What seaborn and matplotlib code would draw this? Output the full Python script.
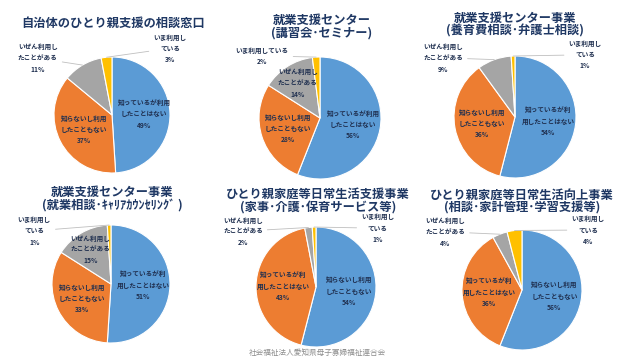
import numpy as np
import matplotlib
matplotlib.use("Agg")
import matplotlib.pyplot as plt
import seaborn as sns

# ---- data ----
titles = [
    "自治体のひとり親支援の相談窓口",
    "就業支援センター\n(講習会･セミナー)",
    "就業支援センター事業\n(養育費相談･弁護士相談)",
    "就業支援センター事業\n(就業相談･ｷｬﾘｱｶｳﾝｾﾘﾝｸﾞ )",
    "ひとり親家庭等日常生活支援事業\n(家事･介護･保育サービス等)",
    "ひとり親家庭等日常生活向上事業\n(相談･家計管理･学習支援等)",
]

know_a = "知っているが利用\nしたことはない"
know_b = "知っているが利\n用したことはない"
dont = "知らないし利用\nしたこともない"
before = "いぜん利用し\nたことがある"
now_a = "いま利用し\nている"
now_b = "いま利用している"

slice_labels = [
    [know_a, dont, before, now_a],
    [know_a, dont, before, now_b],
    [know_b, dont, before, now_a],
    [know_b, dont, before, now_a],
    [dont, know_b, before, now_a],
    [dont, know_b, before, now_a],
]

values = [
    [49, 37, 11, 3],
    [56, 28, 14, 2],
    [54, 36, 9, 1],
    [51, 33, 15, 1],
    [54, 43, 2, 1],
    [56, 36, 4, 4],
]

footer = "社会福祉法人愛知県母子寡婦福祉連合会"

# ---- layout (pixels on a 640x360 canvas) ----
W, H = 640, 360
pie_centers = [(112, 115), (320, 118), (515, 117), (111, 284), (316, 287), (522, 290)]
pie_radius = [58, 61, 61, 59, 60, 60]
title_pos = [(113, 23), (322, 26.5), (515, 25), (112, 199), (318, 200.5), (522, 201.5)]
# per slice: None -> inside label, otherwise (x, y) in radius units for outside label
outside = [
    [None, None, (-1.28, 0.98), (1.0, 1.15)],
    [None, None, None, (-0.95, 1.02)],
    [None, None, (-1.18, 0.97), (1.15, 1.02)],
    [None, None, None, (-1.3, 0.9)],
    [None, None, (-1.22, 0.93), (1.03, 0.98)],
    [None, None, (-1.28, 0.97), (1.1, 1.0)],
]

sns.set_theme(style="white")
plt.rcParams["font.family"] = ["Noto Sans CJK JP", "DejaVu Sans"]

colors = sns.color_palette(["#5B9BD5", "#ED7D31", "#A5A5A5", "#FFC000"])
navy = "#1F3864"
label_color = "#203050"

fig = plt.figure(figsize=(W / 100, H / 100), dpi=100)
fig.patch.set_facecolor("white")

for i in range(6):
    cx, cy = pie_centers[i]
    r = pie_radius[i]
    ax = fig.add_axes([(cx - r) / W, 1 - (cy + r) / H, 2 * r / W, 2 * r / H])
    wedges, _ = ax.pie(values[i], colors=colors, startangle=90, counterclock=False,
                       radius=1, wedgeprops=dict(edgecolor="white", linewidth=0.8))
    ax.set_xlim(-1, 1)
    ax.set_ylim(-1, 1)
    ax.set_aspect("equal")
    ax.axis("off")

    for j, w in enumerate(wedges):
        theta = np.deg2rad((w.theta1 + w.theta2) / 2)
        txt = f"{slice_labels[i][j]}\n{values[i][j]}%"
        pos = outside[i][j]
        if pos is None:
            rr = 0.55 if j < 2 else 0.68
            ax.text(rr * np.cos(theta), rr * np.sin(theta), txt, ha="center", va="center",
                    fontsize=4.8, fontweight="bold", color=label_color, linespacing=1.7)
        else:
            ax.annotate(txt, xy=(np.cos(theta), np.sin(theta)), xytext=pos,
                        ha="center", va="center", fontsize=4.8, fontweight="bold",
                        color=label_color, linespacing=1.7, annotation_clip=False,
                        arrowprops=dict(arrowstyle="-", color="#BFBFBF", lw=0.6,
                                        shrinkA=1, shrinkB=0))

    tx, ty = title_pos[i]
    fig.text(tx / W, 1 - ty / H, titles[i], ha="center", va="center",
             fontsize=8.8, fontweight="bold", color=navy, linespacing=0.95)

fig.text(317 / W, 1 - 353 / H, footer, ha="center", va="center", fontsize=5.5, color="#8C8C8C")

fig.savefig("out.png", dpi=100, facecolor="white")
